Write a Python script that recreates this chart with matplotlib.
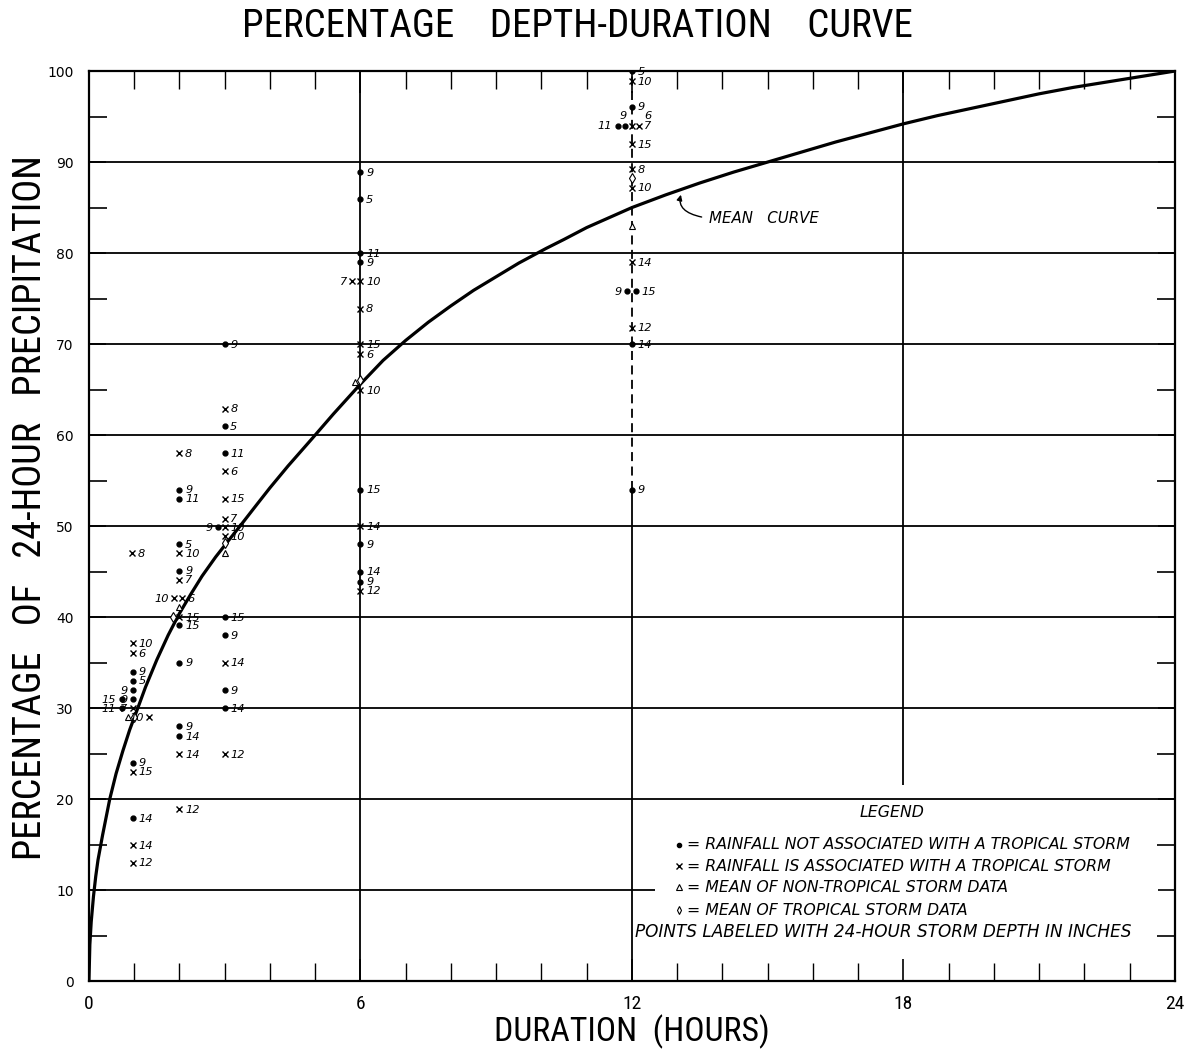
import matplotlib
matplotlib.use("Agg")
import matplotlib.pyplot as plt
from matplotlib.ticker import FixedLocator, MultipleLocator

# ---------------- data ----------------
# Mean curve (hours, percent of 24-hour precipitation)
curve_hours = [0, 0.02, 0.05, 0.1, 0.15, 0.2, 0.3, 0.46, 0.6, 0.75, 0.9, 1.08,
               1.25, 1.5, 1.75, 2.0, 2.25, 2.5, 2.8, 3.1, 3.34, 3.7, 4.0, 4.4,
               4.93, 5.4, 6.0, 6.5, 7.0, 7.5, 8.0, 8.5, 9.0, 9.5, 10.1, 10.5,
               11.0, 11.5, 12.0, 12.75, 13.5, 14.25, 15.0, 15.75, 16.5, 17.25,
               18.0, 18.75, 19.5, 20.25, 21.0, 21.75, 22.5, 23.25, 24.0]
curve_pct = [0, 4.0, 6.5, 9.3, 11.5, 13.3, 16.0, 20.0, 22.8, 25.3, 27.6, 30.0,
             32.3, 35.3, 38.0, 40.4, 42.5, 44.5, 46.6, 48.5, 50.0, 52.3, 54.2, 56.6,
             59.6, 62.3, 65.6, 68.2, 70.4, 72.4, 74.2, 75.9, 77.4, 78.9, 80.5, 81.5,
             82.8, 83.9, 85.0, 86.4, 87.7, 88.9, 90.0, 91.1, 92.2, 93.2,
             94.2, 95.1, 95.9, 96.7, 97.5, 98.2, 98.8, 99.4, 100.0]

# Rainfall NOT associated with a tropical storm (dots)
dot_hours = [0.97, 0.97, 0.97, 0.72, 0.97, 0.72, 0.97, 0.97,
             2, 2, 2, 2, 2, 2, 2, 2,
             3, 3, 3, 2.86, 3, 3, 3, 3,
             6, 6, 6, 6, 6, 6, 6, 6,
             12, 12, 11.69, 11.84, 11.9, 12.08, 12, 12]
dot_pct = [34.0, 33.0, 32.0, 31.0, 31.0, 30.0, 24.0, 17.9,
           54.0, 53.0, 48.0, 45.1, 39.1, 35.0, 28.0, 26.9,
           70.0, 61.0, 58.0, 49.9, 40.0, 38.0, 32.0, 30.0,
           88.9, 85.9, 80.0, 79.0, 54.0, 48.0, 45.0, 43.9,
           100.0, 96.1, 94.0, 94.0, 75.8, 75.8, 70.0, 54.0]
dot_labels = ['9', '5', '9', '15', '9', '11', '9', '14',
              '9', '11', '5', '9', '15', '9', '9', '14',
              '9', '5', '11', '9', '15', '9', '9', '14',
              '9', '5', '11', '9', '15', '9', '14', '9',
              '5', '9', '11', '9', '9', '15', '14', '9']

# Rainfall associated with a tropical storm (x)
trop_hours = [0.95, 0.97, 0.97, 0.97, 1.33, 0.97, 0.97, 0.97,
              2, 2, 2, 1.88, 2.06, 2, 2, 2,
              3, 3, 3, 3, 3, 3, 3, 3,
              5.82, 6, 6, 6, 6, 6, 6, 6,
              12, 12.0, 12.15, 12, 12, 12, 12, 12]
trop_pct = [47.0, 37.1, 36.0, 30.0, 29.0, 23.0, 14.9, 13.0,
            58.0, 47.0, 44.1, 42.1, 42.1, 40.0, 24.9, 18.9,
            62.9, 56.0, 53.0, 50.8, 49.9, 48.9, 35.0, 24.9,
            76.9, 76.9, 73.9, 70.0, 68.9, 64.9, 50.0, 42.9,
            98.9, 94.0, 94.0, 92.0, 89.2, 87.2, 79.0, 71.8]
trop_labels = ['8', '10', '6', '7', '10', '15', '14', '12',
               '8', '10', '7', '10', '6', '15', '14', '12',
               '8', '6', '15', '7', '10', '10', '14', '12',
               '7', '10', '8', '15', '6', '10', '14', '12',
               '10', '6', '7', '15', '8', '10', '14', '12']

# Means
nontrop_mean_hours = [0.87, 1.99, 3.0, 5.88, 12.0]
nontrop_mean_pct = [29.0, 41.1, 47.0, 65.8, 83.0]
trop_mean_hours = [0.99, 1.86, 3.0, 6.0, 12.0]
trop_mean_pct = [29.0, 40.0, 48.1, 66.0, 88.2]

x_ticks = [0, 6, 12, 18, 24]
y_ticks = [0, 10, 20, 30, 40, 50, 60, 70, 80, 90, 100]

legend_lines = ["= RAINFALL NOT ASSOCIATED WITH A TROPICAL STORM",
                "= RAINFALL IS ASSOCIATED WITH A TROPICAL STORM",
                "= MEAN OF NON-TROPICAL STORM DATA",
                "= MEAN OF TROPICAL STORM DATA"]
legend_note = "POINTS LABELED WITH 24-HOUR STORM DEPTH IN INCHES"

# ---------------- layout / style ----------------
# label placement codes (r = right, l = left, t = above, tr = upper right)
dot_side = ['r', 'r', 'l', 'l', 'l', 'l', 'r', 'r',
            'r', 'r', 'r', 'r', 'r', 'r', 'r', 'r',
            'r', 'r', 'r', 'l', 'r', 'r', 'r', 'r',
            'r', 'r', 'r', 'r', 'r', 'r', 'r', 'r',
            'r', 'r', 'l', 't', 'l', 'r', 'r', 'r']
trop_side = ['r', 'r', 'r', 'l', 'l', 'r', 'r', 'r',
             'r', 'r', 'r', 'l', 'r', 'r', 'r', 'r',
             'r', 'r', 'r', 'r', 'r', 'r', 'r', 'r',
             'l', 'r', 'r', 'r', 'r', 'r', 'r', 'r',
             'r', 'tr', 'r', 'r', 'r', 'r', 'r', 'r']
side_fmt = {'r': ((4, -0.5), 'left'), 'l': ((-4, -0.5), 'right'),
            't': ((-1, 7), 'center'), 'tr': ((9, 7), 'left')}

narrow = ['Roboto Condensed', 'Liberation Sans', 'DejaVu Sans']
lab_font = dict(family='DejaVu Sans', style='italic', fontsize=8.2)

dot_style = dict(ls='none', marker='o', ms=3.5, mfc='k', mec='k', zorder=5)
x_style = dict(ls='none', marker='x', ms=4.6, mew=1.0, color='k', zorder=5)
tri_style = dict(ls='none', marker='^', ms=5, mfc='white', mec='k', mew=0.8, zorder=6)
dia_style = dict(ls='none', marker='d', ms=5, mfc='white', mec='k', mew=0.8, zorder=6)

fig = plt.figure(figsize=(11.86, 10.51), dpi=100)
ax = fig.add_axes([0.0750, 0.0666, 0.9157, 0.8658])
ax.set_xlim(0, 24)
ax.set_ylim(0, 100)

# grid lines
glw = 1.3
for y in y_ticks[2:-1]:
    ax.hlines(y, 0, 24, color='k', lw=glw, zorder=1)
ax.hlines(10, 0, 12.5, color='k', lw=glw, zorder=1)
ax.vlines(6, 0, 100, color='k', lw=glw, zorder=1)
ax.vlines(12, 0, 54, color='k', lw=glw, zorder=1)
ax.vlines(12, 54, 100, color='k', lw=glw, linestyles=(0, (5, 3)), zorder=1)
ax.vlines(18, 21.5, 100, color='k', lw=glw, zorder=1)

# mean curve
ax.plot(curve_hours, curve_pct, color='k', lw=2.3, zorder=4,
        solid_capstyle='round', solid_joinstyle='round')

# points
ax.plot(dot_hours, dot_pct, **dot_style)
ax.plot(trop_hours, trop_pct, **x_style)
ax.plot(nontrop_mean_hours, nontrop_mean_pct, **tri_style)
ax.plot(trop_mean_hours, trop_mean_pct, **dia_style)


def put_labels(hs, ps, labs, sides):
    for h, p, t, s in zip(hs, ps, labs, sides):
        off, ha = side_fmt[s]
        ax.annotate(t, (h, p), xytext=off, textcoords='offset points',
                    ha=ha, va='center', zorder=7, **lab_font)


put_labels(dot_hours, dot_pct, dot_labels, dot_side)
put_labels(trop_hours, trop_pct, trop_labels, trop_side)

# mean curve annotation
ax.text(13.7, 83.8, "MEAN   CURVE", ha='left', va='center',
        family='DejaVu Sans', style='italic', fontsize=10.8)
ax.annotate("", xy=(13.1, 86.7), xytext=(13.6, 83.9),
            arrowprops=dict(arrowstyle='-|>', color='k', lw=1.0,
                            mutation_scale=8,
                            connectionstyle='angle3,angleA=170,angleB=70'))

# legend
leg_font = dict(family='DejaVu Sans', style='italic', fontsize=11.3)
ax.text(17.75, 18.5, "LEGEND", ha='center', va='center', **leg_font)
leg_y = [15.0, 12.6, 10.3, 7.8]
leg_styles = [dot_style, x_style, tri_style, dia_style]
for yy, line, st in zip(leg_y, legend_lines, leg_styles):
    s = dict(st)
    if s['marker'] == 'o':
        s['ms'] = 3.0
    if s['marker'] == 'x':
        s['ms'] = 3.8
    if s['marker'] in ('^', 'd'):
        s['ms'] = 4.2
    ax.plot([13.05], [yy], **s)
    ax.text(13.22, yy, line, ha='left', va='center', **leg_font)
ax.text(23.05, 5.4, legend_note, ha='right', va='center',
        family='DejaVu Sans', style='italic', fontsize=12.2)

# ticks
ax.xaxis.set_major_locator(FixedLocator(x_ticks))
ax.xaxis.set_minor_locator(MultipleLocator(1))
ax.yaxis.set_major_locator(FixedLocator(y_ticks))
ax.yaxis.set_minor_locator(FixedLocator([v + 5 for v in y_ticks[:-1]]))
ax.tick_params(axis='x', which='both', direction='in', top=True, bottom=True)
ax.tick_params(axis='x', which='minor', length=13, width=1.0)
ax.tick_params(axis='x', which='major', length=16, width=1.2, pad=10)
ax.tick_params(axis='y', which='both', direction='in', left=True, right=True)
ax.tick_params(axis='y', which='minor', length=13, width=1.2)
ax.tick_params(axis='y', which='major', length=12, width=1.2, pad=11)
ax.set_xticklabels([str(v) for v in x_ticks], family=narrow, fontsize=14)
ax.set_yticklabels([str(v) for v in y_ticks], family='DejaVu Sans', fontsize=10)
for sp in ax.spines.values():
    sp.set_linewidth(1.6)

# titles
fig.text(0.4865, 0.975, "PERCENTAGE    DEPTH-DURATION    CURVE", ha='center',
         va='center', family=narrow, fontsize=28)
fig.text(0.0255, 0.517, "PERCENTAGE   OF   24-HOUR   PRECIPITATION", rotation=90,
         ha='center', va='center', family=narrow, fontsize=27.5)
fig.text(0.533, 0.018, "DURATION  (HOURS)", ha='center', va='center',
         family=narrow, fontsize=24.3)

fig.savefig("out.png", dpi=100, facecolor='white')
